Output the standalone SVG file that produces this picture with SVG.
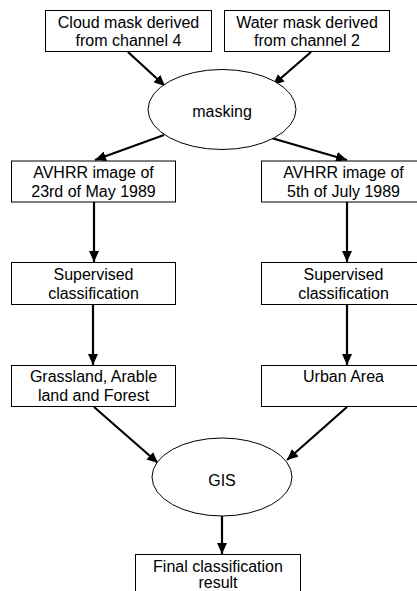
<svg xmlns="http://www.w3.org/2000/svg" width="417" height="591" viewBox="0 0 417 591">
<style>
.box{fill:#fff;stroke:#000;stroke-width:1}
.ell{fill:#fff;stroke:#000;stroke-width:1}
.t{font-family:"Liberation Sans",Arial,sans-serif;font-size:16px;fill:#000;text-anchor:middle}
.c{stroke:#000;stroke-width:2.2;fill:none;marker-end:url(#ah)}
</style>
<defs>
<marker id="ah" markerUnits="userSpaceOnUse" markerWidth="12" markerHeight="10" refX="11" refY="5" orient="auto" viewBox="0 0 12 10">
<path d="M0,0 L11,5 L0,10 Z" fill="#000"/>
</marker>
</defs>
<rect width="417" height="591" fill="#fff"/>
<g id="connectors">
<line class="c" x1="128" y1="52" x2="165" y2="86"/>
<line class="c" x1="311" y1="52" x2="273" y2="85"/>
<line class="c" x1="164" y1="135" x2="95" y2="160"/>
<line class="c" x1="268" y1="137" x2="347" y2="160"/>
<line class="c" x1="94" y1="202" x2="94" y2="262"/>
<line class="c" x1="347" y1="202" x2="347" y2="262"/>
<line class="c" x1="93" y1="304" x2="93" y2="365"/>
<line class="c" x1="347" y1="304" x2="347" y2="365"/>
<line class="c" x1="94" y1="407" x2="158" y2="463"/>
<line class="c" x1="347" y1="407" x2="287" y2="460"/>
<line class="c" x1="222" y1="516" x2="222" y2="554"/>
</g>
<g id="cloud">
<rect class="box" x="45.5" y="10.5" width="166" height="41"/>
<text class="t" x="128.5" y="28">Cloud mask derived</text>
<text class="t" x="128.5" y="46">from channel 4</text>
</g>
<g id="water">
<rect class="box" x="224.5" y="10.5" width="165" height="41"/>
<text class="t" x="307" y="28">Water mask derived</text>
<text class="t" x="307" y="46">from channel 2</text>
</g>
<g id="masking">
<ellipse class="ell" cx="222" cy="109.5" rx="74" ry="40"/>
<text class="t" x="222" y="117">masking</text>
</g>
<g id="avhrr-may">
<rect class="box" x="11.5" y="161" width="164" height="41"/>
<text class="t" x="93.5" y="178">AVHRR image of</text>
<text class="t" x="93.5" y="197">23rd of May 1989</text>
</g>
<g id="avhrr-july">
<rect class="box" x="261.5" y="161" width="164" height="41"/>
<text class="t" x="343.5" y="178">AVHRR image of</text>
<text class="t" x="343.5" y="197">5th of July 1989</text>
</g>
<g id="sup-left">
<rect class="box" x="11.5" y="262.5" width="164" height="42"/>
<text class="t" x="93.5" y="280">Supervised</text>
<text class="t" x="93.5" y="299">classification</text>
</g>
<g id="sup-right">
<rect class="box" x="261.5" y="262.5" width="164" height="42"/>
<text class="t" x="343.5" y="280">Supervised</text>
<text class="t" x="343.5" y="299">classification</text>
</g>
<g id="grassland">
<rect class="box" x="11.5" y="365.5" width="164" height="41"/>
<text class="t" x="93.5" y="382">Grassland, Arable</text>
<text class="t" x="93.5" y="401">land and Forest</text>
</g>
<g id="urban">
<rect class="box" x="261.5" y="365.5" width="164" height="41"/>
<text class="t" x="343.5" y="382">Urban Area</text>
</g>
<g id="gis">
<ellipse class="ell" cx="222" cy="477" rx="70" ry="39"/>
<text class="t" x="222" y="486">GIS</text>
</g>
<g id="final">
<rect class="box" x="135.5" y="554.5" width="165" height="42"/>
<text class="t" x="218" y="571.5">Final classification</text>
<text class="t" x="218" y="588">result</text>
</g>
</svg>
